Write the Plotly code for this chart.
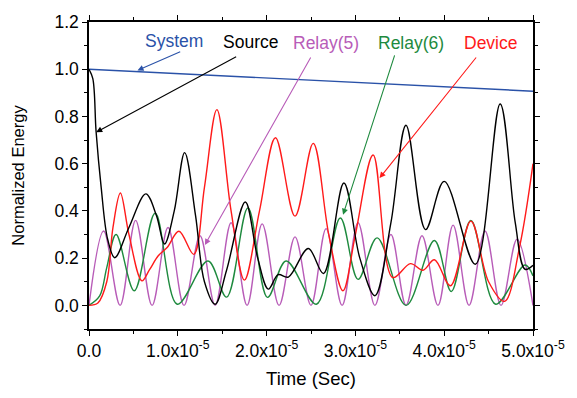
import plotly.graph_objects as go

SCALE = 1e-5  # time values below are in units of 1e-5 s

# System energy (slow linear decay)
t_system = [0.0, 5.0]
e_system = [1.0, 0.907]

# Source
t_source = [0.0, 0.043, 0.08, 0.137, 0.21, 0.29, 0.45, 0.64, 0.76, 0.85, 0.96, 1.077,
            1.2, 1.3, 1.42, 1.55, 1.76, 1.9, 2.02, 2.13, 2.245, 2.47, 2.64, 2.87,
            3.05, 3.22, 3.4, 3.57, 3.79, 4.0, 4.35, 4.63, 4.8, 4.91, 5.0]
e_source = [1.0, 0.96, 0.735, 0.50, 0.28, 0.202, 0.33, 0.472, 0.38, 0.26, 0.40, 0.647,
            0.38, 0.10, 0.005, 0.15, 0.438, 0.20, 0.069, 0.13, 0.12, 0.241, 0.135, 0.518,
            0.20, 0.041, 0.35, 0.763, 0.321, 0.525, 0.174, 0.853, 0.35, 0.153, 0.17]

# Relay(5)
t_relay5 = [0.0, 0.165, 0.35, 0.525, 0.71, 0.89, 1.07, 1.25, 1.42, 1.60, 1.78, 1.95,
            2.14, 2.32, 2.50, 2.67, 2.85, 3.03, 3.22, 3.40, 3.57, 3.75, 3.93, 4.10,
            4.28, 4.46, 4.64, 4.82, 5.0]
e_relay5 = [0.0, 0.315, 0.0, 0.36, 0.0, 0.33, 0.0, 0.295, 0.0, 0.35, 0.0, 0.345,
            0.0, 0.29, 0.0, 0.325, 0.0, 0.35, 0.0, 0.30, 0.0, 0.295, 0.0, 0.34,
            0.0, 0.315, 0.0, 0.28, 0.0]

# Relay(6)
t_relay6 = [0.0, 0.12, 0.2, 0.305, 0.51, 0.745, 0.995, 1.34, 1.55, 1.79, 2.01, 2.22,
            2.56, 2.83, 3.03, 3.245, 3.57, 3.89, 4.08, 4.30, 4.58, 4.91, 5.0]
e_relay6 = [0.0, 0.04, 0.16, 0.30, 0.062, 0.39, 0.005, 0.188, 0.035, 0.413, 0.034, 0.188,
            0.005, 0.37, 0.11, 0.286, 0.0, 0.275, 0.059, 0.36, 0.005, 0.171, 0.125]

# Device
t_device = [0.0, 0.1, 0.2, 0.27, 0.353, 0.45, 0.596, 0.68, 0.78, 0.88, 1.013, 1.18,
            1.3, 1.44, 1.6, 1.75, 1.92, 2.10, 2.32, 2.525, 2.7, 2.86, 3.0, 3.20,
            3.42, 3.62, 3.76, 3.89, 4.07, 4.30, 4.5, 4.68, 4.85, 5.0]
e_device = [0.0, 0.01, 0.10, 0.33, 0.476, 0.30, 0.104, 0.15, 0.21, 0.245, 0.314, 0.216,
            0.50, 0.829, 0.40, 0.107, 0.40, 0.71, 0.378, 0.686, 0.30, 0.062, 0.30, 0.637,
            0.118, 0.177, 0.149, 0.193, 0.083, 0.357, 0.10, 0.017, 0.25, 0.60]

x_tick_vals = [0.0, 1.0, 2.0, 3.0, 4.0, 5.0]
x_tick_text = ["0.0", "1.0x10<sup>-5</sup>", "2.0x10<sup>-5</sup>", "3.0x10<sup>-5</sup>",
               "4.0x10<sup>-5</sup>", "5.0x10<sup>-5</sup>"]
y_tick_vals = [0.0, 0.2, 0.4, 0.6, 0.8, 1.0, 1.2]
y_tick_text = ["0.0", "0.2", "0.4", "0.6", "0.8", "1.0", "1.2"]

COLORS = {
    "System": "#2a52a8",
    "Source": "#000000",
    "Relay(5)": "#b85cb8",
    "Relay(6)": "#1e8a3e",
    "Device": "#ff1a1a",
}

series = [
    ("System", t_system, e_system),
    ("Relay(5)", t_relay5, e_relay5),
    ("Relay(6)", t_relay6, e_relay6),
    ("Device", t_device, e_device),
    ("Source", t_source, e_source),
]

fig = go.Figure()
for name, t, e in series:
    fig.add_trace(go.Scatter(
        x=[v * SCALE for v in t], y=e, mode="lines", name=name,
        line=dict(color=COLORS[name], width=1.4, shape="spline", smoothing=1.0),
        showlegend=False,
    ))

FONT = "Liberation Sans, Arial, sans-serif"

# label text and arrow (tail -> tip), in data units (time in 1e-5 s)
labels = [
    ("System", (0.957, 1.121), (1.044, 1.077), (0.546, 0.995)),
    ("Source", (1.816, 1.115), (1.674, 1.056), (0.081, 0.733)),
    ("Relay(5)", (2.674, 1.110), (2.506, 1.056), (1.305, 0.256)),
    ("Relay(6)", (3.626, 1.110), (3.447, 1.065), (2.861, 0.384)),
    ("Device", (4.522, 1.110), (4.373, 1.056), (3.272, 0.539)),
]
annotations = []
for name, (tx, ty), (ax, ay), (hx, hy) in labels:
    c = COLORS[name]
    annotations.append(dict(
        x=tx * SCALE, y=ty, xref="x", yref="y", text=name, showarrow=False,
        font=dict(family=FONT, size=17.5, color=c), xanchor="center", yanchor="middle",
    ))
    annotations.append(dict(
        x=hx * SCALE, y=hy, xref="x", yref="y", ax=ax * SCALE, ay=ay,
        axref="x", ayref="y", text="", showarrow=True, arrowhead=2,
        arrowsize=1.1, arrowwidth=1.1, arrowcolor=c, standoff=0, startstandoff=0,
    ))

axis_common = dict(
    showline=True, linecolor="black", linewidth=1.5, mirror="ticks",
    ticks="outside", ticklen=5, tickwidth=1.3, tickcolor="black",
    showgrid=False, zeroline=False,
    tickfont=dict(family=FONT, size=17.5, color="black"),
)

fig.update_layout(
    width=577, height=398,
    margin=dict(l=89, r=41, t=22, b=66),
    paper_bgcolor="white", plot_bgcolor="white",
    annotations=annotations,
    xaxis=dict(
        range=[0, 5.0 * SCALE],
        tickvals=[v * SCALE for v in x_tick_vals], ticktext=x_tick_text,
        minor=dict(tickvals=[v * SCALE for v in [0.5, 1.5, 2.5, 3.5, 4.5]],
                   ticks="outside", ticklen=3, tickcolor="black", tickwidth=1.2),
        title=dict(text="Time (Sec)", font=dict(family=FONT, size=18.5, color="black"), standoff=12),
        **axis_common,
    ),
    yaxis=dict(
        range=[-0.1, 1.2],
        tickvals=y_tick_vals, ticktext=y_tick_text,
        minor=dict(tickvals=[-0.1, 0.1, 0.3, 0.5, 0.7, 0.9, 1.1],
                   ticks="outside", ticklen=3, tickcolor="black", tickwidth=1.2),
        title=dict(text="Normalized Energy", font=dict(family=FONT, size=16.5, color="black"), standoff=26),
        **axis_common,
    ),
)

fig.write_html("out.html")
